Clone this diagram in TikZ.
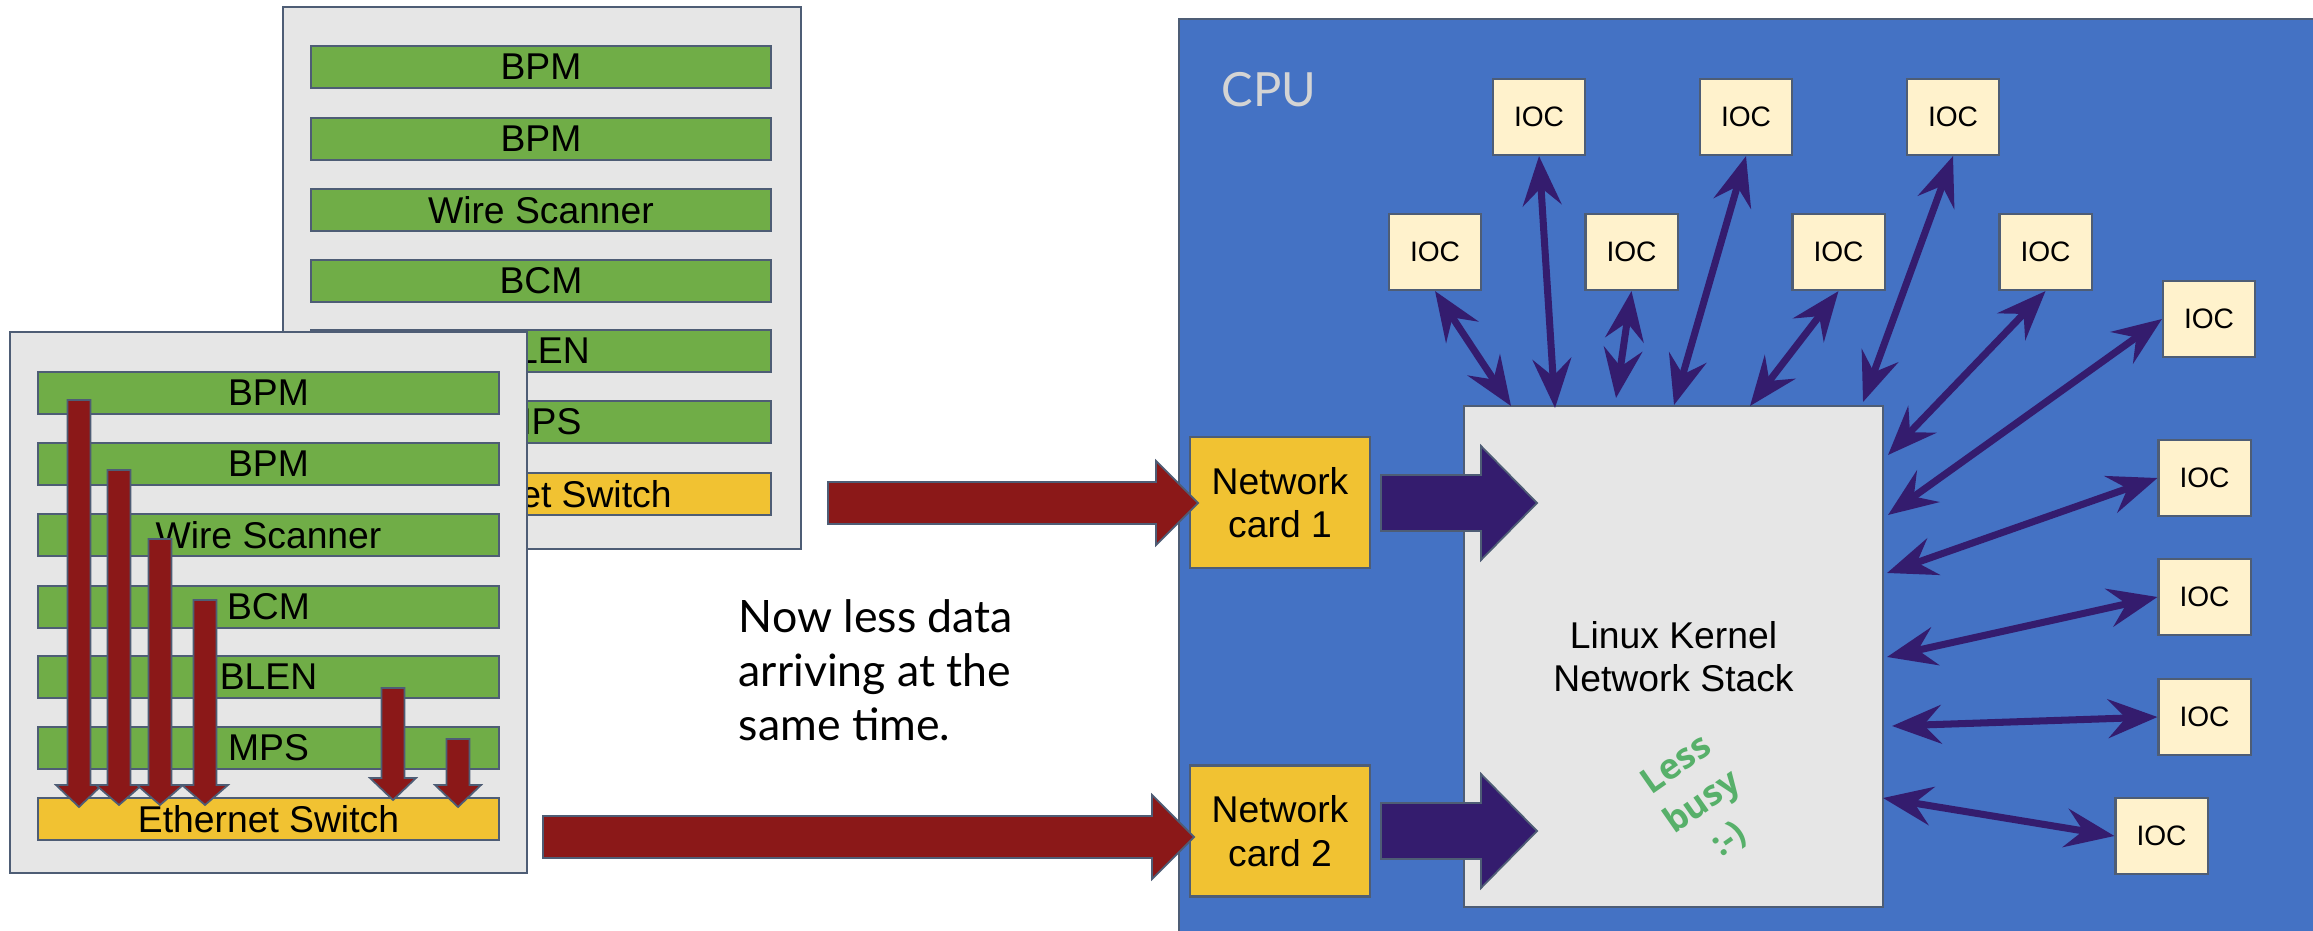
\documentclass[tikz,border=0pt]{standalone}
\usepackage{fontspec}
\setmainfont{Liberation Sans}
\newfontfamily\latofont{Lato}
\newfontfamily\opensansfont{Open Sans}
\usetikzlibrary{arrows.meta}
\definecolor{rackgray}{HTML}{E6E6E6}
\definecolor{slate}{HTML}{4E5D75}
\definecolor{rowgreen}{HTML}{70AD47}
\definecolor{swyellow}{HTML}{F1C232}
\definecolor{datared}{HTML}{8B1818}
\definecolor{cpublue}{HTML}{4472C4}
\definecolor{iocfill}{HTML}{FFF2CC}
\definecolor{netpurple}{HTML}{341C6E}
\definecolor{happygreen}{HTML}{57B06A}
\definecolor{cpulabel}{HTML}{D4D4D4}
\newcommand\lblfont{\fontsize{10.6pt}{12.4pt}\selectfont}
\newcommand\mkdown[4]{%
  \filldraw[redblock] ({#1-11.5},#2) -- ({#1+11.5},#2) -- ({#1+11.5},#3) -- ({#1+23},#3) -- (#1,#4) -- ({#1-23},#3) -- ({#1-11.5},#3) -- cycle;}
\newcommand\mkright[7]{%
  \filldraw[#7] (#1,{#4-#5}) -- (#2,{#4-#5}) -- (#2,{#4-#6}) -- (#3,#4) -- (#2,{#4+#6}) -- (#2,{#4+#5}) -- (#1,{#4+#5}) -- cycle;}
\begin{document}
\begin{tikzpicture}[x=0.01cm,y=-0.01cm,
  rack/.style={draw=slate,fill=rackgray,line width=0.6pt,inner sep=0pt},
  slot/.style={draw=slate,fill=rowgreen,line width=0.6pt,minimum width=4.6cm,minimum height=0.42cm,inner sep=0pt,font=\lblfont},
  switchslot/.style={slot,fill=swyellow},
  redblock/.style={draw=slate,fill=datared,line width=0.5pt},
  purpleblock/.style={draw=slate,fill=netpurple,line width=0.5pt},
  netcard/.style={draw=slate,fill=swyellow,line width=0.6pt,minimum width=1.8cm,minimum height=1.31cm,align=center,font=\lblfont,inner sep=0pt},
  ioc/.style={draw=slate,fill=iocfill,line width=0.6pt,minimum width=0.92cm,minimum height=0.76cm,inner sep=0pt,font=\fontsize{8pt}{10pt}\selectfont},
  iocarrow/.style={draw=netpurple,line width=2pt,{Stealth[length=14pt,width=11pt,inset=5pt]}-{Stealth[length=14pt,width=11pt,inset=5pt]}}
]
\useasboundingbox (0,0) rectangle (2313,931);
% back rack
\node[rack,minimum width=5.18cm,minimum height=5.42cm] (backrack) at (542,278) {};
\node[slot] (b1) at (541,67) {BPM};
\node[slot] (b2) at (541,139) {BPM};
\node[slot] (b3) at (541,210) {Wire Scanner};
\node[slot] (b4) at (541,281) {BCM};
\node[slot] (b5) at (541,351) {BLEN};
\node[slot] (b6) at (541,422) {MPS};
\node[switchslot] (b7) at (541,494) {Ethernet Switch};
% front rack
\node[rack,minimum width=5.17cm,minimum height=5.41cm] (frontrack) at (268.5,602.5) {};
\node[slot] (f1) at (268.5,393) {BPM};
\node[slot] (f2) at (268.5,464) {BPM};
\node[slot] (f3) at (268.5,535) {Wire Scanner};
\node[slot] (f4) at (268.5,607) {BCM};
\node[slot] (f5) at (268.5,677) {BLEN};
\node[slot] (f6) at (268.5,748) {MPS};
\node[switchslot] (f7) at (268.5,819) {Ethernet Switch};
% data arrows inside front rack
\mkdown{79}{400}{785}{807}
\mkdown{119}{470}{785}{805}
\mkdown{160}{539}{785}{805}
\mkdown{205}{600}{785}{805}
\mkdown{393}{688}{778}{800}
\mkdown{458}{739}{785}{807}
% text
\node[anchor=north west,align=left,inner sep=0pt,font=\latofont\fontsize{12.7pt}{15.4pt}\selectfont] (note) at (738,599) {Now less data\\arriving at the\\same time.};
% CPU
\draw[draw=slate,fill=cpublue,line width=0.6pt] (1179,19) rectangle (2340,960);
\node[anchor=base west,inner sep=0pt,text=cpulabel,font=\latofont\fontsize{13.4pt}{16pt}\selectfont] (cpu) at (1221,107) {CPU};
\node[netcard] (nc1) at (1280,502.5) {Network\\card 1};
\node[netcard] (nc2) at (1280,831) {Network\\card 2};
\node[draw=slate,fill=rackgray,line width=0.6pt,minimum width=4.19cm,minimum height=5.01cm,align=center,font=\lblfont,inner sep=0pt] (kernel) at (1673.5,656.5) {Linux Kernel\\Network Stack};
% big arrows
\mkright{828}{1156}{1198}{503}{21}{42}{redblock}
\mkright{543}{1152}{1194}{837}{21}{42}{redblock}
\mkright{1381}{1481}{1537}{503}{28}{57}{purpleblock}
\mkright{1381}{1481}{1537}{831}{28}{57}{purpleblock}
% IOCs
\node[ioc] (iocA) at (1539,117) {IOC};
\node[ioc] (iocB) at (1746,117) {IOC};
\node[ioc] (iocC) at (1953,117) {IOC};
\node[ioc] (iocD) at (1435,252) {IOC};
\node[ioc] (iocE) at (1631.5,252) {IOC};
\node[ioc] (iocF) at (1838.5,252) {IOC};
\node[ioc] (iocG) at (2045.5,252) {IOC};
\node[ioc] (iocH) at (2209,319) {IOC};
\node[ioc] (iocI) at (2204.5,478) {IOC};
\node[ioc] (iocJ) at (2204.5,597) {IOC};
\node[ioc] (iocK) at (2204.5,717) {IOC};
\node[ioc] (iocL) at (2161.5,836) {IOC};
\coordinate (k1) at (1511,406);
\coordinate (k2) at (1555,408);
\coordinate (k3) at (1616,398);
\coordinate (k4) at (1674,405);
\coordinate (k5) at (1750,406);
\coordinate (k6) at (1863,402);
\coordinate (k7) at (1888,455);
\coordinate (k8) at (1888,515);
\coordinate (k9) at (1887,573);
\coordinate (k10) at (1887,657);
\coordinate (k11) at (1892,726);
\coordinate (k12) at (1883,798);
\draw[iocarrow] (iocD.south) -- (k1);
\draw[iocarrow] (iocA.south) -- (k2);
\draw[iocarrow] (iocE.south) -- (k3);
\draw[iocarrow] (iocB.south) -- (k4);
\draw[iocarrow] (iocF.south) -- (k5);
\draw[iocarrow] (iocC.south) -- (k6);
\draw[iocarrow] (iocG.south) -- (k7);
\draw[iocarrow] (iocH.west) -- (k8);
\draw[iocarrow] (iocI.west) -- (k9);
\draw[iocarrow] (iocJ.west) -- (k10);
\draw[iocarrow] (iocK.west) -- (k11);
\draw[iocarrow] (iocL.west) -- (k12);
\node[rotate=35,align=center,inner sep=0pt,text=happygreen,font=\opensansfont\bfseries\fontsize{10pt}{13pt}\selectfont] (lessbusy) at (1703,803) {Less\\busy\\:-)};
\end{tikzpicture}
\end{document}
